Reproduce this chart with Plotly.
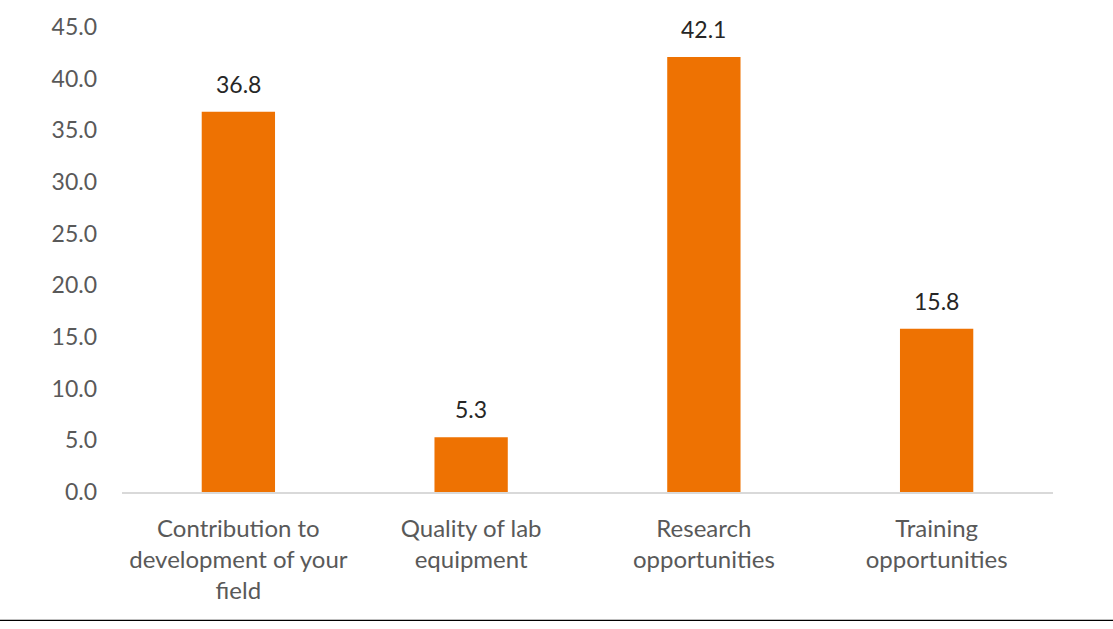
import plotly.graph_objects as go

categories = ["Contribution to<br>development of your<br>field",
              "Quality of lab<br>equipment",
              "Research<br>opportunities",
              "Training<br>opportunities"]
values = [36.8, 5.3, 42.1, 15.8]
y_ticks = [0, 5, 10, 15, 20, 25, 30, 35, 40, 45]
y_tick_labels = [f"{v:.1f}" for v in y_ticks]

W, H = 1113, 629
L, R, T, B = 122, 60, 25, 137
plot_w = W - L - R
plot_h = H - T - B

fig = go.Figure()
fig.add_trace(go.Bar(
    x=categories, y=values,
    marker=dict(color="#EE7202", line=dict(width=0)),
    cliponaxis=False,
))

for c, v in zip(categories, values):
    fig.add_annotation(x=c, y=v, text=f"{v:.1f}", showarrow=False,
                       yanchor="bottom", yshift=12,
                       font=dict(size=23, color="#262626", family="Lato"))

fig.update_layout(
    width=W, height=H,
    margin=dict(l=L, r=R, t=T, b=B),
    plot_bgcolor="white", paper_bgcolor="white",
    bargap=0.685,
    showlegend=False,
    font=dict(family="Lato", size=23, color="#595959"),
    xaxis=dict(showline=True, linecolor="#D9D9D9", linewidth=1.5,
               showgrid=False, ticks="", tickfont=dict(size=24, color="#595959"),
               ticklabelstandoff=14),
    yaxis=dict(range=[0, 45], tickvals=y_ticks, ticktext=y_tick_labels,
               showgrid=False, showline=False, zeroline=False, ticks="",
               tickfont=dict(size=23, color="#595959"), ticklabelstandoff=24),
)

fig.add_shape(type="line", xref="paper", yref="paper",
              x0=-L / plot_w, x1=1 + R / plot_w,
              y0=-(621 - (T + plot_h)) / plot_h, y1=-(621 - (T + plot_h)) / plot_h,
              line=dict(color="#000000", width=1.2))

fig.write_html("out.html")
